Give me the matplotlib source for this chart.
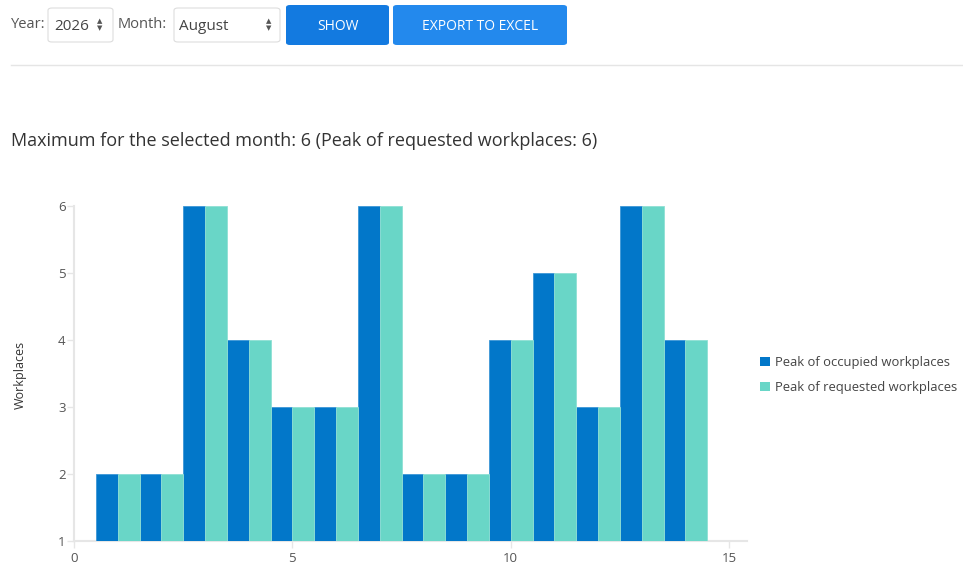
import matplotlib
matplotlib.use("Agg")
import matplotlib.pyplot as plt
from matplotlib.patches import FancyBboxPatch
from matplotlib.lines import Line2D
import numpy as np

plt.rcParams['font.family'] = ['Open Sans', 'DejaVu Sans']

# data
days = np.arange(1, 15)
occupied = [2, 2, 6, 4, 3, 3, 6, 2, 2, 4, 5, 3, 6, 4]
requested = [2, 2, 6, 4, 3, 3, 6, 2, 2, 4, 5, 3, 6, 4]
series_names = ["Peak of occupied workplaces", "Peak of requested workplaces"]
title_text = "Maximum for the selected month: 6 (Peak of requested workplaces: 6)"
year_value = "2026"
month_value = "August"

W, H = 963, 579
BLUE = "#0277c9"
TEAL = "#69d6c7"
GRID = "#e6e6e6"
TXT = "#555555"

fig = plt.figure(figsize=(W / 100, H / 100), dpi=100)

def fx(x):
    return x / W

def fy(y):
    return 1 - y / H

def box(x0, y0, x1, y1, fc, ec="none", r=4):
    p = FancyBboxPatch((fx(x0), fy(y1)), fx(x1 - x0), (y1 - y0) / H,
                       boxstyle="round,pad=0,rounding_size=%f" % (r / W),
                       transform=fig.transFigure, fc=fc, ec=ec, lw=0.8)
    fig.patches.append(p)

def arrows(x, y):
    fig.text(fx(x), fy(y - 4), "▲", fontsize=5, color="#555555", ha="center", va="center",
             family="DejaVu Sans")
    fig.text(fx(x), fy(y + 3), "▼", fontsize=5, color="#555555", ha="center", va="center",
             family="DejaVu Sans")

# top controls
fig.text(fx(11), fy(25), "Year:", fontsize=10.5, color="#555555", va="center")
box(48, 8, 113, 42, "white", "#dddddd")
fig.text(fx(54), fy(26), year_value, fontsize=11, color="#444444", va="center")
arrows(100, 25)
fig.text(fx(118), fy(25), "Month:", fontsize=10.5, color="#555555", va="center")
box(174, 8, 280, 42, "white", "#dddddd")
fig.text(fx(179), fy(26), month_value, fontsize=11, color="#444444", va="center")
arrows(269, 25)
box(286, 5, 389, 45, "#137ae0")
fig.text(fx(337.5), fy(26), "SHOW", fontsize=10, color="white", ha="center", va="center")
box(393, 5, 567, 45, "#2389ed")
fig.text(fx(480), fy(26), "EXPORT TO EXCEL", fontsize=10, color="white", ha="center", va="center")
fig.lines.append(Line2D([fx(11), fx(963)], [fy(65), fy(65)], transform=fig.transFigure,
                        color="#e5e5e5", lw=1))

fig.text(fx(11), fy(141), title_text, fontsize=13, color="#333333", va="center")

# chart
ax = fig.add_axes([fx(74), fy(541), (747 - 74) / W, (541 - 206) / H])
w = 0.5
ax.bar(days - w / 2, occupied, width=w, bottom=0, color=BLUE, edgecolor="#3d97d6", lw=0.6,
       label=series_names[0], zorder=2)
ax.bar(days + w / 2, requested, width=w, bottom=0, color=TEAL, edgecolor="#8fe0d4", lw=0.6,
       label=series_names[1], zorder=2)
ax.set_xlim(0, (747 - 74) / ((729 - 74) / 15))
ax.set_ylim(1, 6)
ax.set_xticks([0, 5, 10, 15])
ax.set_yticks([1, 2, 3, 4, 5, 6])
for s in ["top", "right"]:
    ax.spines[s].set_visible(False)
for s in ["left", "bottom"]:
    ax.spines[s].set_color(GRID)
    ax.spines[s].set_linewidth(1.5)
    ax.spines[s].set_zorder(1)
ax.tick_params(colors=GRID, labelcolor=TXT, labelsize=9.5, length=5, width=1)
ax.tick_params(axis="y", pad=1)
ax.tick_params(axis="x", pad=3)
ax.set_ylabel("Workplaces", fontsize=9, color="#333333")
ax.yaxis.set_label_coords(fx(27), fy(375), transform=fig.transFigure)

leg = ax.legend(loc="center left", bbox_to_anchor=(fx(760), fy(375)),
                bbox_transform=fig.transFigure,
                frameon=False, fontsize=9.4, handlelength=0.75, handleheight=0.75,
                handletextpad=0.4, labelspacing=0.9, borderaxespad=0, borderpad=0)
for t in leg.get_texts():
    t.set_color("#444444")
for h in leg.legend_handles:
    h.set_edgecolor("none")

fig.savefig("out.png", dpi=100)
